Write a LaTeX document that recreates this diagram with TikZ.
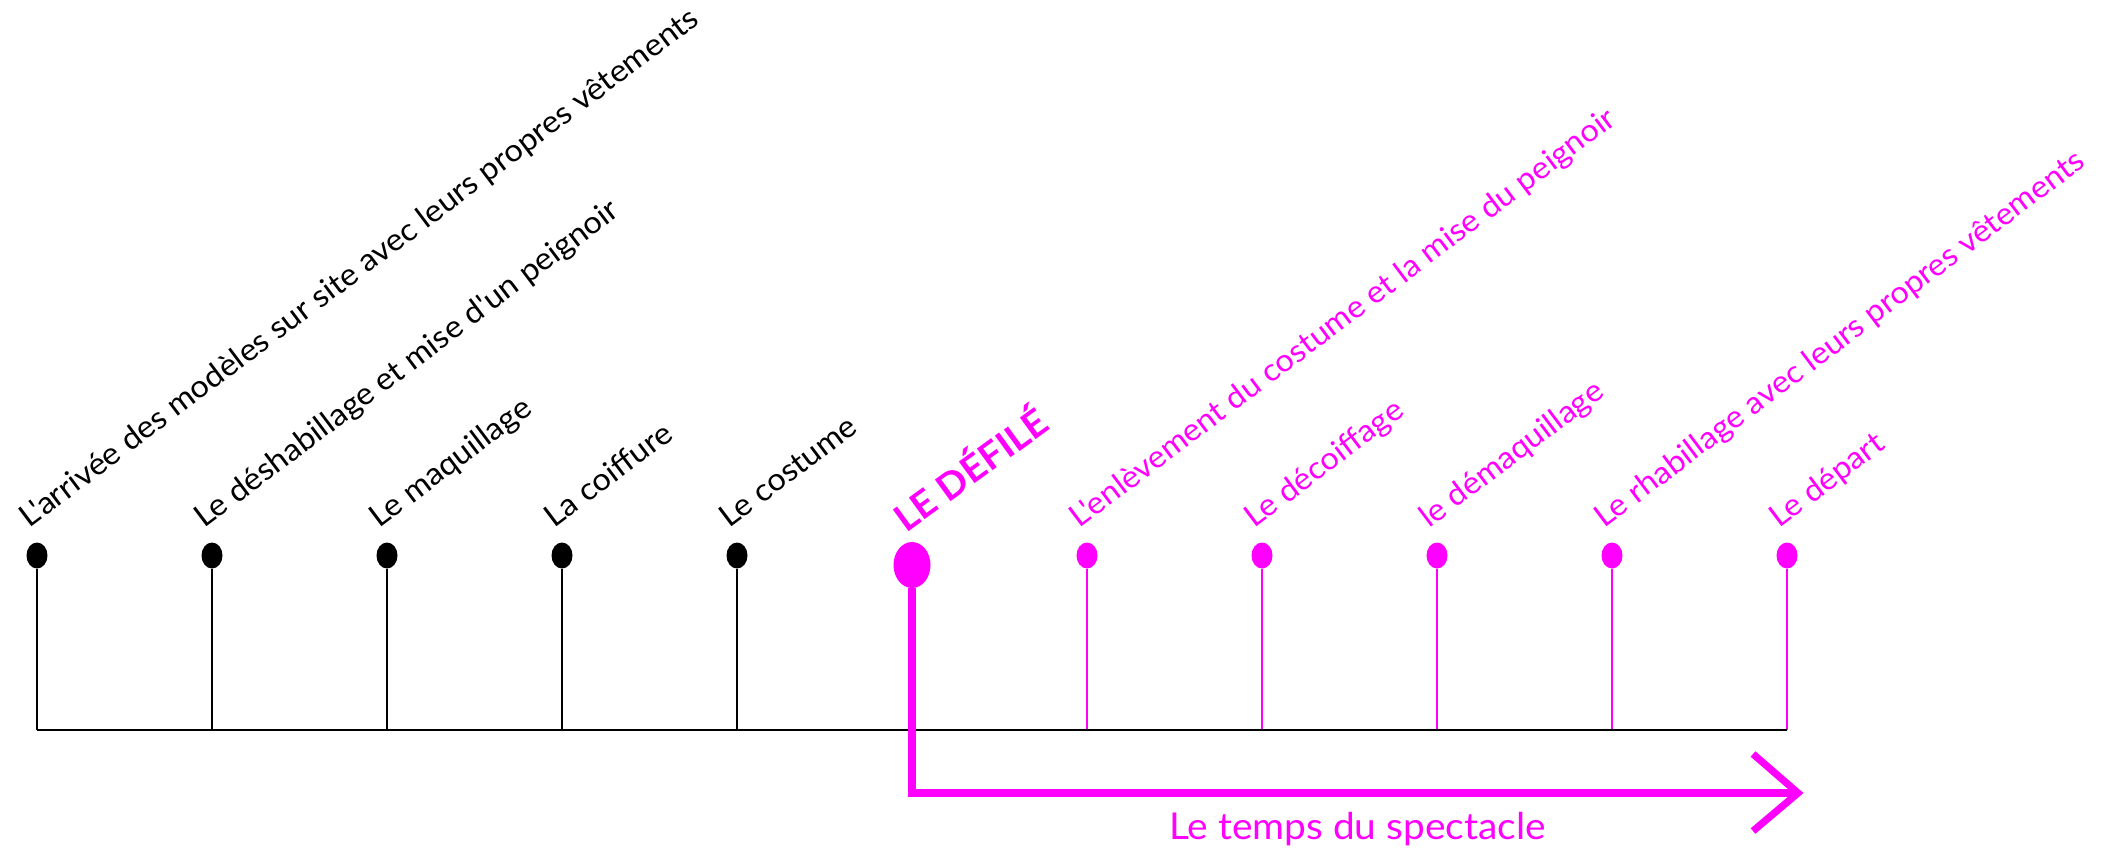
\documentclass[tikz,border=0pt]{standalone}
\usepackage{fontspec}
\setmainfont{Lato}
\newfontfamily\avfont[FakeStretch=1.05]{Lato}
\usetikzlibrary{shapes.geometric}
\definecolor{mag}{RGB}{255,0,255}
\begin{document}
\begin{tikzpicture}[x=0.5pt,y=-0.5pt,
  dot/.style={ellipse,fill=black,draw=none,inner sep=0pt,minimum width=10.5pt,minimum height=13pt},
  mdot/.style={dot,fill=mag},
  bigdot/.style={dot,fill=mag,minimum width=18.5pt,minimum height=23pt},
  lab/.style={anchor=base west,rotate=37,inner sep=0pt,font=\avfont\fontsize{15.5}{18}\selectfont},
  mlab/.style={lab,text=mag},
  stem/.style={line width=1pt,black},
  mstem/.style={line width=1pt,mag},
  baseln/.style={line width=1.3pt,black},
  timeln/.style={line width=3.6pt,mag,line join=miter},
  biglab/.style={anchor=base west,rotate=36,inner sep=0pt,text=mag,font=\avfont\fontsize{18.5}{21}\bfseries\selectfont},
  botlab/.style={anchor=base,inner sep=0pt,text=mag,font=\avfont\fontsize{18.5}{21}\selectfont}
]
\useasboundingbox (0,0) rectangle (2118,850);
% baseline coordinates
\foreach \i in {0,...,10} {
  \coordinate (b\i) at ({37+175*\i},730);
}
% black dots
\foreach \i in {0,...,4} {
  \node[dot] (d\i) at ({37+175*\i},555.5) {};
}
% big dot
\node[bigdot] (d5) at (912,565) {};
% magenta dots
\foreach \i in {6,...,10} {
  \node[mdot] (d\i) at ({37+175*\i},555.5) {};
}
% stems
\foreach \i in {0,...,4} {
  \draw[stem] (d\i.south) -- (b\i);
}
\foreach \i in {6,...,10} {
  \draw[mstem] (d\i.south) -- (b\i);
}
\draw[baseln] (b0) -- (b10);
% time arrow
\coordinate (corner) at (912,793);
\coordinate (tip) at (1798,793);
\coordinate (ua) at (1753,754);
\coordinate (la) at (1753,831);
\draw[timeln] (d5.south) -- (corner) -- (tip);
\draw[timeln] (ua) -- (tip) -- (la);
\node[botlab] (tl) at (1357.5,839) {Le temps du spectacle};
% labels
\node[lab] (l0) at (29,529) {L'arrivée des modèles sur site avec leurs propres vêtements};
\node[lab] (l1) at (204,529) {Le déshabillage et mise d'un peignoir};
\node[lab] (l2) at (379,529) {Le maquillage};
\node[lab] (l3) at (554,529) {La coiffure};
\node[lab] (l4) at (729,529) {Le costume};
\node[biglab] (l5) at (906,534) {LE DÉFILÉ};
\node[mlab] (l6) at (1079,529) {L'enlèvement du costume et la mise du peignoir};
\node[mlab] (l7) at (1254,529) {Le décoiffage};
\node[mlab] (l8) at (1429,529) {le démaquillage};
\node[mlab] (l9) at (1604,529) {Le rhabillage avec leurs propres vêtements};
\node[mlab] (l10) at (1779,529) {Le départ};
\end{tikzpicture}
\end{document}
